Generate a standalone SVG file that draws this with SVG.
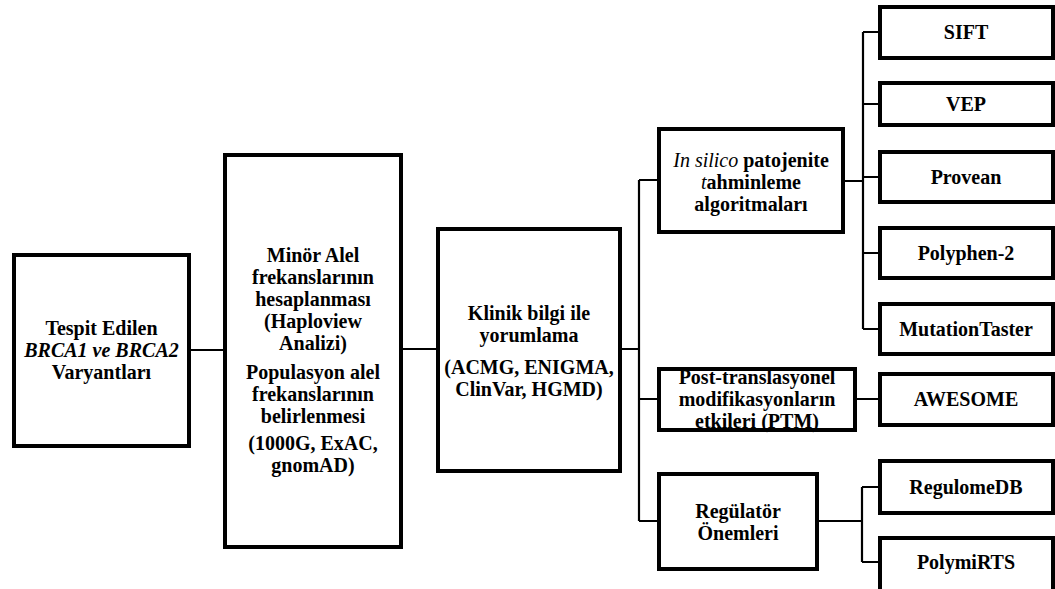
<svg xmlns="http://www.w3.org/2000/svg" width="1055" height="589" viewBox="0 0 1055 589">
<style>
.box{fill:#fff;stroke:#000;stroke-width:4}
.conn{fill:none;stroke:#000;stroke-width:2.2}
text{font-family:"Liberation Serif","Times New Roman",serif;font-weight:bold;font-size:20px;text-anchor:middle;fill:#000}
.it{font-style:italic}
.itn{font-style:italic;font-weight:normal}
</style>
<rect width="1055" height="589" fill="#fff"/>
<g id="connectors">
<path class="conn" d="M191 350H223M403 349H436M622 349H639M639 180V521M639 180H657M639 399H657M639 521H657"/>
<path class="conn" d="M845 181H863M863 32V329M863 32H878M863 104H878M863 177H878M863 253H878M863 329H878"/>
<path class="conn" d="M857 399H878M819 521H862M862 487V562M862 487H878M862 562H878"/>
</g>
<g id="n1">
<rect class="box" x="14" y="255" width="175" height="191"/>
<text x="101.5" y="335">Tespit Edilen</text>
<text x="101.5" y="357" class="it">BRCA1 ve BRCA2</text>
<text x="101.5" y="379">Varyantları</text>
</g>
<g id="n2">
<rect class="box" x="225" y="155" width="176" height="392"/>
<text x="313" y="262">Minör Alel</text>
<text x="313" y="284">frekanslarının</text>
<text x="313" y="306">hesaplanması</text>
<text x="313" y="328">(Haploview</text>
<text x="313" y="350">Analizi)</text>
<text x="313" y="379">Populasyon alel</text>
<text x="313" y="401">frekanslarının</text>
<text x="313" y="423">belirlenmesi</text>
<text x="313" y="450">(1000G, ExAC,</text>
<text x="313" y="472">gnomAD)</text>
</g>
<g id="n3">
<rect class="box" x="438" y="229" width="182" height="242"/>
<text x="529" y="320">Klinik bilgi ile</text>
<text x="529" y="342">yorumlama</text>
<text x="529" y="374">(ACMG, ENIGMA,</text>
<text x="529" y="396">ClinVar, HGMD)</text>
</g>
<g id="n4">
<rect class="box" x="659" y="129" width="184" height="103"/>
<text x="751" y="167"><tspan class="itn">In silico</tspan> patojenite</text>
<text x="751" y="189"><tspan class="itn">t</tspan>ahminleme</text>
<text x="751" y="211">algoritmaları</text>
</g>
<g id="n5">
<rect class="box" x="659" y="369" width="196" height="61"/>
<text x="757" y="384">Post-translasyonel</text>
<text x="757" y="406">modifikasyonların</text>
<text x="757" y="428">etkileri (PTM)</text>
</g>
<g id="n6">
<rect class="box" x="659" y="474" width="158" height="95"/>
<text x="738" y="518">Regülatör</text>
<text x="738" y="540">Önemleri</text>
</g>
<g id="n7"><rect class="box" x="880" y="7" width="173" height="51"/><text x="966" y="39">SIFT</text></g>
<g id="n8"><rect class="box" x="880" y="83" width="173" height="42"/><text x="966" y="111">VEP</text></g>
<g id="n9"><rect class="box" x="880" y="152" width="173" height="50"/><text x="966" y="184">Provean</text></g>
<g id="n10"><rect class="box" x="880" y="228" width="173" height="50"/><text x="966" y="260">Polyphen-2</text></g>
<g id="n11"><rect class="box" x="880" y="304" width="173" height="50"/><text x="966" y="336">MutationTaster</text></g>
<g id="n12"><rect class="box" x="880" y="374" width="173" height="51"/><text x="966" y="406">AWESOME</text></g>
<g id="n13"><rect class="box" x="880" y="461" width="173" height="52"/><text x="966" y="494">RegulomeDB</text></g>
<g id="n14"><rect class="box" x="880" y="538" width="173" height="56"/><text x="966" y="569">PolymiRTS</text></g>
</svg>
